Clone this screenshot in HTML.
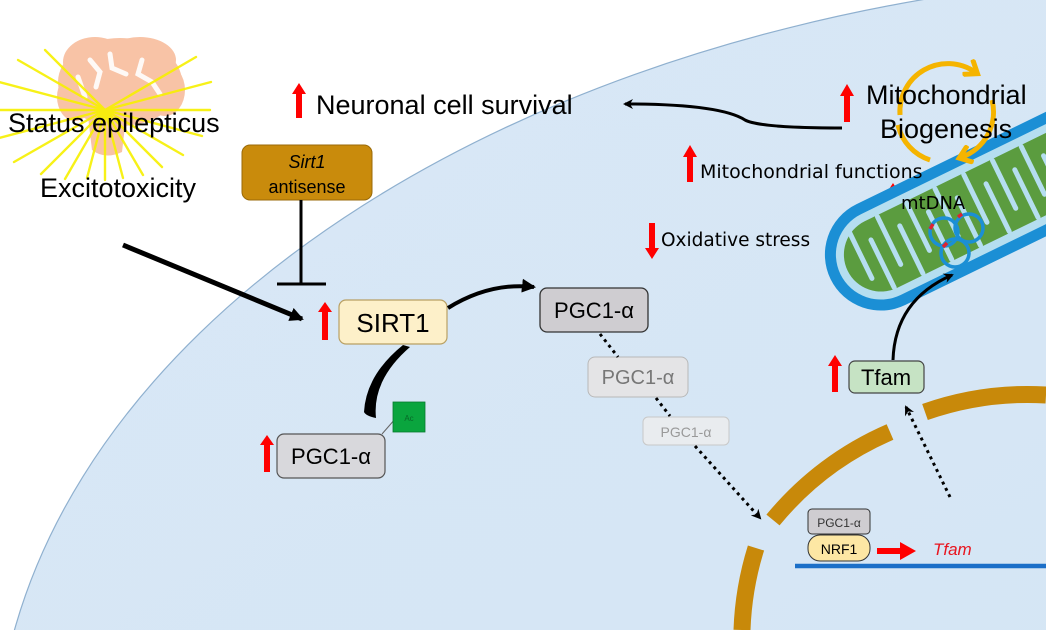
<!DOCTYPE html>
<html><head><meta charset="utf-8"><style>
html,body{margin:0;padding:0;background:#fff;width:1046px;height:630px;overflow:hidden;}
svg{display:block;}
text{font-family:"Liberation Sans",sans-serif;}
.c{font-family:"DejaVu Sans","Liberation Sans",sans-serif;}
</style></head><body>
<svg width="1046" height="630" viewBox="0 0 1046 630" xmlns="http://www.w3.org/2000/svg">
<defs>
<linearGradient id="cell" x1="0" y1="0" x2="1" y2="1">
<stop offset="0" stop-color="#d9e7f6"/><stop offset="0.6" stop-color="#d3e6f4"/><stop offset="1" stop-color="#c4e2ef"/>
</linearGradient>
<marker id="ah" markerWidth="10" markerHeight="10" refX="8" refY="5" orient="auto" markerUnits="userSpaceOnUse">
<path d="M0,0 L10,5 L0,10 L3,5 z" fill="#000"/></marker>
<marker id="ahs" markerWidth="14" markerHeight="14" refX="12" refY="7" orient="auto" markerUnits="userSpaceOnUse">
<path d="M0,0 L14,7 L0,14 z" fill="#000"/></marker>
<marker id="aho" markerWidth="20" markerHeight="20" refX="10" refY="10" orient="auto" markerUnits="userSpaceOnUse">
<path d="M1,1 L13,10 L1,19" fill="none" stroke="#f5b400" stroke-width="5"/></marker>
<clipPath id="cp"><rect width="1046" height="630"/></clipPath>
</defs>
<g clip-path="url(#cp)">
<rect width="1046" height="630" fill="#fff"/>
<ellipse cx="1250" cy="770" rx="1255" ry="798" fill="url(#cell)" stroke="#8fb0cf" stroke-width="1.2"/>

<!-- brain -->
<g fill="#f8c3a6">
<ellipse cx="120" cy="82" rx="62" ry="44"/>
<ellipse cx="95" cy="62" rx="32" ry="25"/>
<ellipse cx="140" cy="60" rx="36" ry="23"/>
<ellipse cx="165" cy="90" rx="20" ry="26"/>
<ellipse cx="75" cy="97" rx="18" ry="24"/>
<path d="M86,100 L128,100 L122,152 Q105,160 92,150 z"/>
</g>
<g stroke="#fff" stroke-width="5" stroke-linecap="round" fill="none" opacity="0.9">
<path d="M90,60 L100,72 L96,87"/><path d="M110,54 L112,68 L126,74"/><path d="M142,60 L138,74 L152,82 L160,94"/><path d="M78,77 L85,97"/>
</g>
<g stroke="#f7f000" stroke-width="2.4" stroke-linecap="round" opacity="0.9">
<line x1="105" y1="110" x2="210" y2="110"/><line x1="105" y1="110" x2="202" y2="136"/><line x1="105" y1="110" x2="183" y2="155"/>
<line x1="105" y1="110" x2="162" y2="167"/><line x1="105" y1="110" x2="143" y2="175"/><line x1="105" y1="110" x2="123" y2="178"/>
<line x1="105" y1="110" x2="105" y2="180"/><line x1="105" y1="110" x2="87" y2="178"/><line x1="105" y1="110" x2="65" y2="179"/>
<line x1="105" y1="110" x2="41" y2="174"/><line x1="105" y1="110" x2="14" y2="162"/><line x1="105" y1="110" x2="-1" y2="138"/>
<line x1="105" y1="110" x2="-5" y2="110"/><line x1="105" y1="110" x2="-1" y2="82"/><line x1="105" y1="110" x2="18" y2="60"/>
<line x1="105" y1="110" x2="45" y2="50"/><line x1="105" y1="110" x2="196" y2="57"/>
<line x1="105" y1="110" x2="211" y2="82"/>
</g>
<text x="8" y="132" font-size="27" fill="#000">Status epilepticus</text>
<text x="40" y="197" font-size="27" fill="#000">Excitotoxicity</text>

<!-- Sirt1 antisense -->
<rect x="242" y="145" width="130" height="55" rx="8" fill="#c98b0c" stroke="#9a6a08" stroke-width="1"/>
<text x="307" y="168" font-size="18" font-style="italic" text-anchor="middle">Sirt1</text>
<text x="307" y="193" font-size="18" text-anchor="middle">antisense</text>
<line x1="301" y1="200" x2="301" y2="283" stroke="#000" stroke-width="3"/>
<line x1="277" y1="284" x2="326" y2="284" stroke="#000" stroke-width="3"/>

<line x1="123" y1="245" x2="302" y2="319" stroke="#000" stroke-width="5" marker-end="url(#ahs)"/>

<g fill="#f00">
<path d="M322,340 L322,312 L318,312 L325,302 L332,312 L328,312 L328,340 z"/>
<path d="M264,472 L264,445 L260,445 L267,435 L274,445 L270,445 L270,472 z"/>
<path d="M296,118 L296,94 L292,94 L299,83 L306,94 L302,94 L302,118 z"/>
<path d="M844,122 L844,96 L840,96 L847,84 L854,96 L850,96 L850,122 z"/>
<path d="M687,182 L687,157 L683,157 L690,145 L697,157 L693,157 L693,182 z"/>
<path d="M890,218 L890,194 L886,194 L893,183 L900,194 L896,194 L896,218 z"/>
<path d="M649,223 L649,248 L645,248 L652,259 L659,248 L655,248 L655,223 z"/>
<path d="M832,392 L832,366 L828,366 L835,355 L842,366 L838,366 L838,392 z"/>
<path d="M877,548 L900,548 L900,542 L916,551 L900,560 L900,554 L877,554 z"/>
</g>

<rect x="339" y="300" width="108" height="44" rx="7" fill="#fdf0c9" stroke="#b9a063" stroke-width="1.2"/>
<text x="393" y="332" font-size="26" text-anchor="middle">SIRT1</text>
<rect x="277" y="434" width="108" height="44" rx="7" fill="#d8d8dc" stroke="#555" stroke-width="1.2"/>
<text x="331" y="464" font-size="22" text-anchor="middle">PGC1-α</text>
<line x1="382" y1="434" x2="396" y2="418" stroke="#666" stroke-width="1"/>
<rect x="393" y="402" width="32" height="30" fill="#0aa53e" stroke="#077a2e" stroke-width="0.8"/>
<text x="409" y="421" font-size="8" fill="#076a28" text-anchor="middle">Ac</text>
<path d="M403,345 Q366,375 364,412 Q366,416 376,418 Q372,380 410,347 z" fill="#000"/>
<path d="M448,308 Q490,282 534,287" fill="none" stroke="#000" stroke-width="4" marker-end="url(#ahs)"/>

<rect x="540" y="288" width="108" height="44" rx="7" fill="#cfcdd1" stroke="#333" stroke-width="1.3"/>
<text x="594" y="318" font-size="22" text-anchor="middle">PGC1-α</text>
<rect x="588" y="357" width="100" height="40" rx="7" fill="#e4e4e6" stroke="#b8b8b8" stroke-width="1"/>
<text x="638" y="384" font-size="20" fill="#777" text-anchor="middle">PGC1-α</text>
<rect x="643" y="417" width="86" height="28" rx="5" fill="#e9ecef" stroke="#c8c8c8" stroke-width="1"/>
<text x="686" y="437" font-size="14" fill="#999" text-anchor="middle">PGC1-α</text>
<g stroke="#000" stroke-width="3" stroke-dasharray="3,4" fill="none">
<line x1="600" y1="334" x2="618" y2="357"/>
<line x1="656" y1="398" x2="670" y2="416"/>
<line x1="695" y1="446" x2="760" y2="518" marker-end="url(#ah)"/>
<line x1="950" y1="497" x2="906" y2="407" marker-end="url(#ah)"/>
</g>

<text x="316" y="114" font-size="27">Neuronal cell survival</text>
<path d="M842,128 Q760,128 745,120 Q720,104 625,104" fill="none" stroke="#000" stroke-width="3" marker-end="url(#ah)"/>

<!-- mitochondrion -->
<g transform="translate(880,255) rotate(-26)">
<rect x="-55" y="-56" width="470" height="112" rx="56" fill="#1b8fd5"/>
<rect x="-44" y="-45" width="460" height="90" rx="45" fill="#b5def0"/>
<rect x="-36" y="-37" width="450" height="74" rx="37" fill="#5b9c3f"/>
<g fill="#b5def0">
<rect x="-20" y="-38" width="5" height="58" rx="2.5"/><rect x="-4" y="-20" width="5" height="58" rx="2.5"/>
<rect x="12" y="-38" width="5" height="58" rx="2.5"/><rect x="28" y="-20" width="5" height="58" rx="2.5"/>
<rect x="44" y="-38" width="5" height="58" rx="2.5"/><rect x="60" y="-20" width="5" height="58" rx="2.5"/>
<rect x="76" y="-38" width="5" height="58" rx="2.5"/><rect x="92" y="-20" width="5" height="58" rx="2.5"/>
<rect x="108" y="-38" width="5" height="58" rx="2.5"/><rect x="124" y="-20" width="5" height="58" rx="2.5"/>
<rect x="140" y="-38" width="5" height="58" rx="2.5"/><rect x="156" y="-20" width="5" height="58" rx="2.5"/>
<rect x="172" y="-38" width="5" height="58" rx="2.5"/><rect x="188" y="-20" width="5" height="58" rx="2.5"/>
<rect x="204" y="-38" width="5" height="58" rx="2.5"/><rect x="220" y="-20" width="5" height="58" rx="2.5"/>
<rect x="236" y="-38" width="5" height="58" rx="2.5"/><rect x="252" y="-20" width="5" height="58" rx="2.5"/>
</g>
</g>
<g fill="none" stroke="#1b8fd5" stroke-width="3.5">
<circle cx="944" cy="232" r="14"/><circle cx="969" cy="228" r="14"/><circle cx="955" cy="253" r="14"/>
</g>
<g stroke="#d23" stroke-width="3.5"><line x1="930" y1="229" x2="933" y2="224"/><line x1="943" y1="247" x2="947" y2="243"/><line x1="958" y1="217" x2="962" y2="214"/></g>

<!-- yellow circular arrows -->
<path d="M900,115 A48,48 0 0 1 975,72" fill="none" stroke="#f5b400" stroke-width="5" marker-end="url(#aho)"/>
<path d="M992,100 A48,48 0 0 1 962,157" fill="none" stroke="#f5b400" stroke-width="5" marker-end="url(#aho)"/>
<path d="M930,160 A48,48 0 0 1 898,125" fill="none" stroke="#f5b400" stroke-width="5"/>

<text x="866" y="104" font-size="27">Mitochondrial</text>
<text x="880" y="138" font-size="27">Biogenesis</text>
<text x="700" y="178" font-size="19" class="c">Mitochondrial functions</text>
<text x="901" y="209" font-size="18" class="c">mtDNA</text>
<text x="661" y="246" font-size="18.5" class="c">Oxidative stress</text>

<path d="M893,360 Q895,300 952,275" fill="none" stroke="#000" stroke-width="3" marker-end="url(#ah)"/>
<rect x="849" y="361" width="75" height="32" rx="6" fill="#c6e3c4" stroke="#444" stroke-width="1.2"/>
<text x="886" y="385" font-size="22" text-anchor="middle">Tfam</text>

<g fill="none" stroke="#c8890a" stroke-width="17">
<path d="M1046,395 A310,310 0 0 0 925,412"/>
<path d="M890,432 A310,310 0 0 0 773,520"/>
<path d="M756,548 A310,310 0 0 0 742,630"/>
</g>
<line x1="795" y1="566" x2="1046" y2="566" stroke="#1b6fc8" stroke-width="4.5"/>
<rect x="808" y="509" width="62" height="25" rx="4" fill="#cfcdd1" stroke="#333" stroke-width="1"/>
<text x="839" y="527" font-size="12" fill="#333" text-anchor="middle">PGC1-α</text>
<rect x="808" y="535" width="62" height="26" rx="12" fill="#fde7a4" stroke="#333" stroke-width="1"/>
<text x="839" y="554" font-size="14" text-anchor="middle">NRF1</text>
<text x="933" y="555" font-size="17" font-style="italic" fill="#e8141e">Tfam</text>
</g>
</svg>
</body></html>
